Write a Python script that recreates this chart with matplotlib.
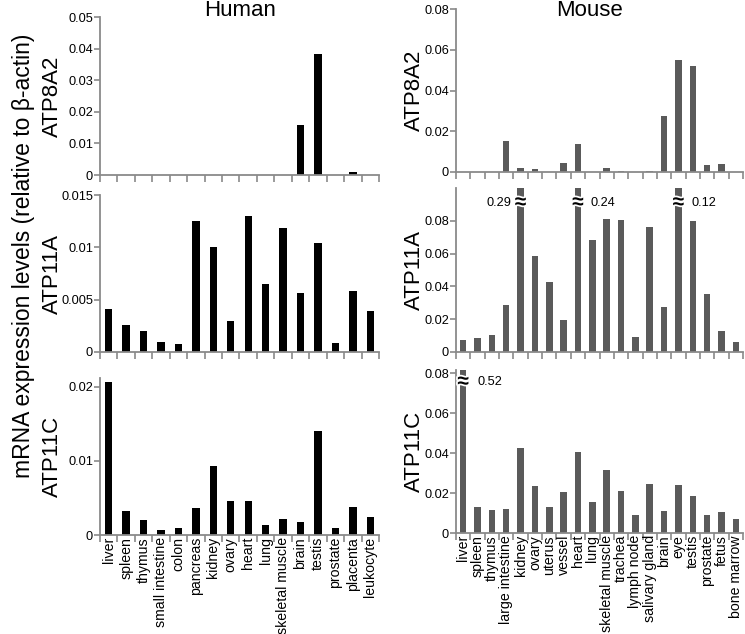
import matplotlib
matplotlib.use("Agg")
import matplotlib.pyplot as plt
import matplotlib.patheffects as pe

plt.rcParams['font.family'] = ['Liberation Sans', 'DejaVu Sans']

# tissues
human_tissues = ["liver", "spleen", "thymus", "small intestine", "colon", "pancreas",
                 "kidney", "ovary", "heart", "lung", "skeletal muscle", "brain",
                 "testis", "prostate", "placenta", "leukocyte"]
mouse_tissues = ["liver", "spleen", "thymus", "large intestine", "kidney", "ovary",
                 "uterus", "vessel", "heart", "lung", "skeletal muscle", "trachea",
                 "lymph node", "salivary gland", "brain", "eye", "testis", "prostate",
                 "fetus", "bone marrow"]

# human values
h_atp8a2 = [0, 0, 0, 0, 0, 0, 0, 0, 0, 0, 0, 0.0159, 0.0384, 0, 0.0008, 0]
h_atp11a = [0.0041, 0.0026, 0.0020, 0.00095, 0.0008, 0.0125, 0.0100, 0.0030,
            0.0130, 0.0065, 0.0118, 0.0056, 0.0104, 0.0009, 0.0058, 0.0039]
h_atp11c = [0.0207, 0.0032, 0.0020, 0.0007, 0.0010, 0.0036, 0.0093, 0.0046,
            0.0046, 0.0013, 0.0022, 0.0018, 0.0141, 0.0010, 0.0038, 0.0024]

# mouse values
m_atp8a2 = [0, 0, 0, 0.0153, 0.0020, 0.0016, 0, 0.0044, 0.0135, 0, 0.0020,
            0.0007, 0, 0.0005, 0.0276, 0.0549, 0.0520, 0.0033, 0.0038, 0]
m_atp11a = [0.0075, 0.0088, 0.0103, 0.0286, 0.29, 0.0583, 0.0428, 0.0193, 0.24,
            0.0684, 0.0810, 0.0802, 0.0090, 0.0765, 0.0274, 0.12, 0.0800, 0.0355,
            0.0130, 0.0063]
m_atp11c = [0.52, 0.0130, 0.0115, 0.0122, 0.0426, 0.0237, 0.0132, 0.0207, 0.0405,
            0.0155, 0.0316, 0.0212, 0.0089, 0.0244, 0.0110, 0.0240, 0.0183, 0.0089,
            0.0105, 0.0072]

W, H = 745, 634
fig = plt.figure(figsize=(W / 100, H / 100), dpi=100)


def make_ax(x0, x1, ytop, ybot):
    return fig.add_axes([x0 / W, 1 - ybot / H, (x1 - x0) / W, (ybot - ytop) / H])


def style(ax, n, ymax, yticks, ylabels, xlabels=None):
    gray = "#8a8a8a"
    for s in ["top", "right"]:
        ax.spines[s].set_visible(False)
    for s in ["left", "bottom"]:
        ax.spines[s].set_color(gray)
        ax.spines[s].set_linewidth(1.3)
    ax.set_xlim(-0.5, n - 0.5)
    ax.set_ylim(0, ymax)
    ax.set_xticks([i - 0.5 for i in range(n + 1)])
    ax.set_xticklabels([])
    ax.tick_params(axis="x", direction="out", length=5, width=1.2, color=gray)
    ax.set_yticks(yticks)
    ax.set_yticklabels(ylabels, fontsize=9.2)
    ax.tick_params(axis="y", direction="out", length=4, width=1.2, color=gray, pad=1)
    if xlabels is not None:
        ax.set_xticks(range(n), minor=True)
        ax.set_xticklabels(xlabels, minor=True, rotation=90, fontsize=10.2)
        ax.tick_params(axis="x", which="minor", length=0, pad=1.5)


def brk(ax, x, y, label, side, dx):
    ax.text(x, y, "≈", ha="center", va="center", fontsize=15, fontweight="bold",
            color="black", path_effects=[pe.withStroke(linewidth=2.5, foreground="white")])
    ax.text(x + dx, y, label, ha="right" if side == "left" else "left",
            va="center", fontsize=9.2)


hx = range(len(human_tissues))
mx = range(len(mouse_tissues))
mcol = "#5a5a5a"

# Human
ax1 = make_ax(100, 379, 17, 175)
ax1.bar(hx, h_atp8a2, width=0.42, color="black")
style(ax1, 16, 0.05, [0, 0.01, 0.02, 0.03, 0.04, 0.05],
      ["0", "0.01", "0.02", "0.03", "0.04", "0.05"])

ax2 = make_ax(100, 379, 195, 352)
ax2.bar(hx, h_atp11a, width=0.42, color="black")
style(ax2, 16, 0.015, [0, 0.005, 0.01, 0.015], ["0", "0.005", "0.01", "0.015"])

ax3 = make_ax(100, 379, 378, 535)
ax3.bar(hx, h_atp11c, width=0.42, color="black")
style(ax3, 16, 0.0212, [0, 0.01, 0.02], ["0", "0.01", "0.02"], human_tissues)

# Mouse
ax4 = make_ax(456, 743, 9, 172)
ax4.bar(mx, m_atp8a2, width=0.45, color=mcol)
style(ax4, 20, 0.08, [0, 0.02, 0.04, 0.06, 0.08], ["0", "0.02", "0.04", "0.06", "0.08"])

ax5 = make_ax(456, 743, 188, 352)
ax5.bar(mx, m_atp11a, width=0.45, color=mcol)
style(ax5, 20, 0.1, [0, 0.02, 0.04, 0.06, 0.08], ["0", "0.02", "0.04", "0.06", "0.08"])
for i, v in enumerate(m_atp11a):
    if v > 0.1:
        if i == 4:
            brk(ax5, i, 0.091, f"{v:.2f}", "left", -0.65)
        else:
            brk(ax5, i, 0.091, f"{v:.2f}", "right", 0.9)

ax6 = make_ax(456, 743, 370, 533)
ax6.bar(mx, m_atp11c, width=0.45, color=mcol)
style(ax6, 20, 0.0815, [0, 0.02, 0.04, 0.06, 0.08], ["0", "0.02", "0.04", "0.06", "0.08"],
      mouse_tissues)
for i, v in enumerate(m_atp11c):
    if v > 0.0815:
        brk(ax6, i, 0.0755, f"{v:.2f}", "right", 1.0)

# titles
fig.text(240 / W, 1 - 11 / H, "Human", ha="center", va="center", fontsize=16)
fig.text(590 / W, 1 - 11 / H, "Mouse", ha="center", va="center", fontsize=16)

# gene labels
for ax, name in [(ax1, "ATP8A2"), (ax2, "ATP11A"), (ax3, "ATP11C")]:
    p = ax.get_position()
    fig.text(52 / W, (p.y0 + p.y1) / 2, name, fontsize=16, rotation=90,
             ha="center", va="center")
for ax, name in [(ax4, "ATP8A2"), (ax5, "ATP11A"), (ax6, "ATP11C")]:
    p = ax.get_position()
    fig.text(414 / W, (p.y0 + p.y1) / 2, name, fontsize=16, rotation=90,
             ha="center", va="center")

fig.text(24 / W, 1 - 256 / H, "mRNA expression levels (relative to β-actin)",
         rotation=90, ha="center", va="center", fontsize=16.5)

fig.savefig("out.png", dpi=100)
